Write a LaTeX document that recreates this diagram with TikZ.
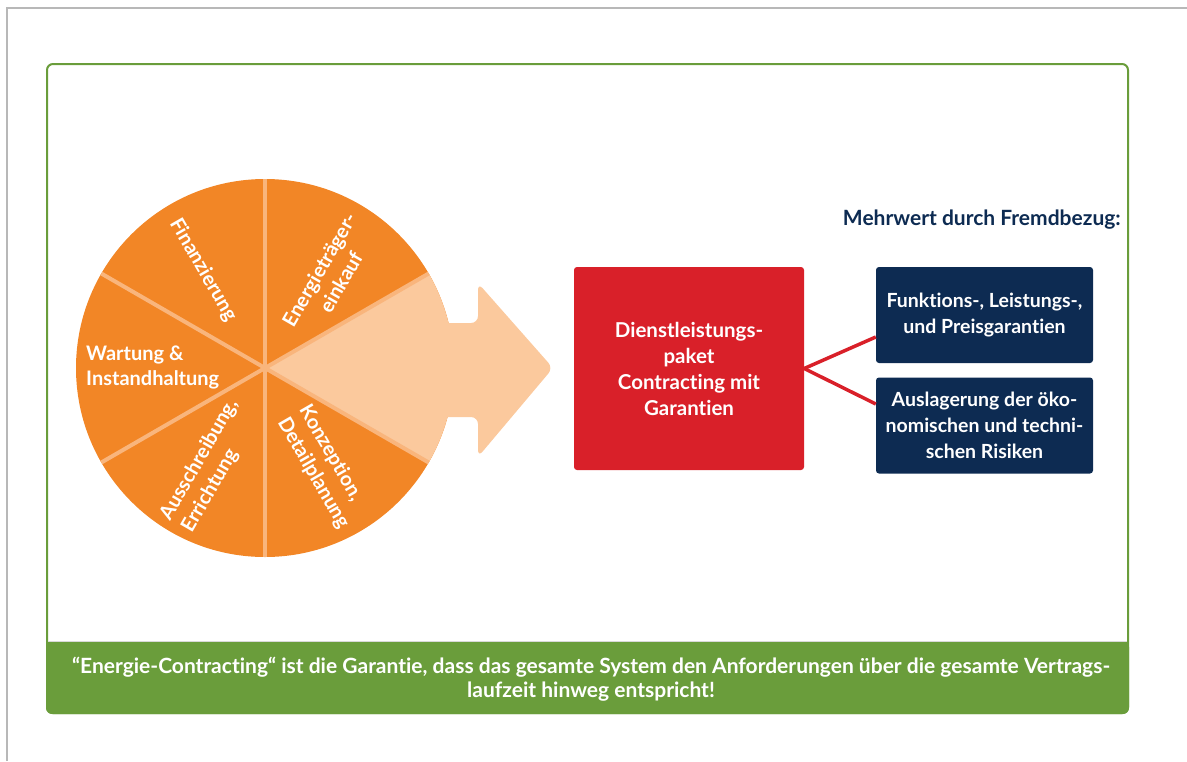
\documentclass[tikz,border=0pt]{standalone}
\usepackage{fontspec}
\setmainfont{Lato}[Ligatures=NoCommon]
\usetikzlibrary{calc}
\definecolor{orng}{HTML}{F28626}
\definecolor{peach}{HTML}{FBC99D}
\definecolor{sepcol}{HTML}{F9B57C}
\definecolor{redbox}{HTML}{D92029}
\definecolor{navy}{HTML}{0D2B52}
\definecolor{grn}{HTML}{6A9D3B}
\tikzset{
  slicetext/.style={text=white, font=\bfseries\fontsize{20}{25}\selectfont, inner sep=0pt},
  boxtext/.style={text=white, font=\bfseries\fontsize{19.5}{26}\selectfont, align=center},
  redstyle/.style={fill=redbox, rounded corners=3pt, minimum width=230pt, minimum height=203pt, boxtext, font=\bfseries\fontsize{20.5}{26}\selectfont},
  navystyle/.style={fill=navy, rounded corners=3pt, minimum width=217pt, minimum height=96pt, boxtext, inner sep=0pt},
  link/.style={draw=redbox, line width=3.5pt},
}
\begin{document}
\begin{tikzpicture}[x=1pt,y=-1pt]
\useasboundingbox (0,0) rectangle (1187,761);
% outer gray frame
\draw[black!28, line width=1.5pt] (7,761) -- (7,8) -- (1187,8);
% green frame
\fill[grn, rounded corners=6pt] (46,641) rectangle (1129,714);
\fill[grn] (46,641) rectangle (1129,660);
\draw[grn, line width=2pt, rounded corners=6pt] (47,64) rectangle (1128,713);
\draw[black!15, line width=0.8pt] (48,641) -- (1127,641);
% pie
\coordinate (c) at (265,368);
\fill[orng] (c) circle (189);
\fill[peach] (c) -- ++(-30:189) arc[start angle=-30, end angle=30, radius=189] -- cycle;
% arrow
\fill[peach, rounded corners=7pt] (420,323) -- (478,323) -- (478,283) -- (553,368) -- (478,457) -- (478,417) -- (420,417) -- cycle;
\foreach \a in {-90,-30,30,90,150,210}
  \draw[sepcol, line width=4pt] (c) -- ++(\a:189);
% slice labels
\node[slicetext, rotate=-60] (fin) at (203,270) {Finanzierung};
\node[slicetext, rotate=60, align=center] (ene) at (330,276) {Energieträger-\\einkauf};
\node[slicetext, anchor=west, align=left] (war) at (86,367) {Wartung \&\\Instandhaltung};
\node[slicetext, rotate=60, align=left] (aus) at (210,466) {Ausschreibung,\\Errichtung};
\node[slicetext, rotate=-60, align=left] (kon) at (324,467) {Konzeption,\\Detailplanung};
% boxes
\node[redstyle] (dl) at (689,368.5) {Dienstleistungs-\\paket\\Contracting mit\\Garantien};
\node[navystyle] (b1) at (984.5,315) {Funktions-, Leistungs-,\\und Preisgarantien};
\node[navystyle] (b2) at (984.5,425.5) {Auslagerung der öko-\\nomischen und techni-\\schen Risiken};
\draw[link] (dl.east) -- ($(b1.west)+(0,22)$);
\draw[link] (dl.east) -- ($(b2.west)+(0,-21.5)$);
% title
\node[anchor=east, text=navy, font=\bfseries\fontsize{21}{24}\selectfont, inner sep=0pt] (title) at (1121,220) {Mehrwert durch Fremdbezug:};
% footer
\node[text=white, font=\bfseries\fontsize{21}{24}\selectfont, align=center] (foot) at (591,679) {“Energie-Contracting“ ist die Garantie, dass das gesamte System den Anforderungen über die gesamte Vertrags-\\laufzeit hinweg entspricht!};
\end{tikzpicture}
\end{document}
